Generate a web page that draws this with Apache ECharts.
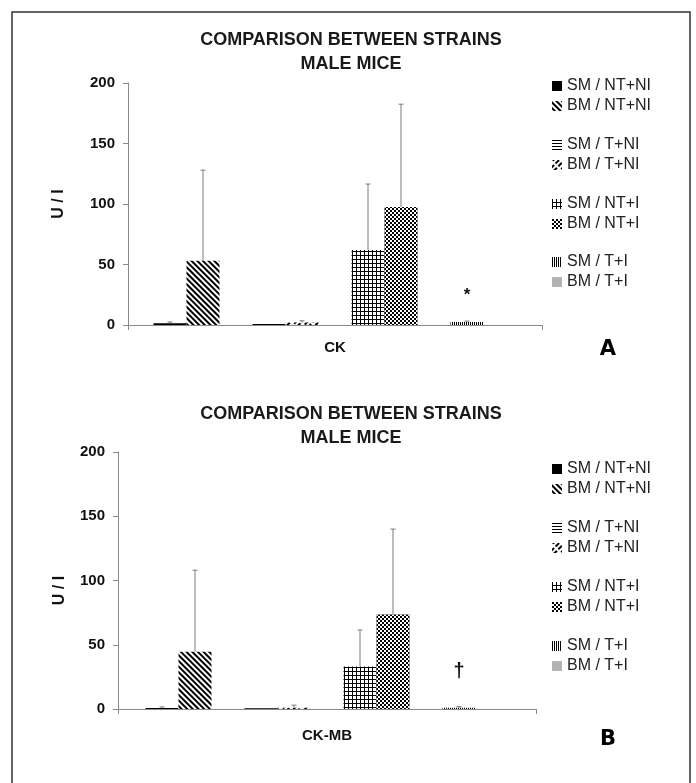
<!DOCTYPE html>
<html>
<head>
<meta charset="utf-8">
<script src="https://cdn.jsdelivr.net/npm/echarts@6.0.0/dist/echarts.min.js"></script>
<style>
  html, body { margin: 0; padding: 0; background: #fff; }
  #chart { width: 696px; height: 783px; }
</style>
</head>
<body>
<div id="chart"></div>
<script>
// groups: strain / treatment
const groups = ['SM / NT+NI', 'BM / NT+NI', 'SM / T+NI', 'BM / T+NI', 'SM / NT+I', 'BM / NT+I', 'SM / T+I', 'BM / T+I'];
const yTicks = [0, 50, 100, 150, 200];

// panel A
const ckCategory = ['CK'];
const ckMean = [1.5, 53, 0.8, 2, 62, 97.5, 2.5, 0];
const ckSd = [1, 75, 0, 1.5, 54.5, 85, 0.7, 0];
const ckMark = ['', '', '', '', '', '', '*', ''];

// panel B
const ckmbCategory = ['CK-MB'];
const ckmbMean = [0.8, 44.5, 0.5, 1, 33, 73.5, 1, 0];
const ckmbSd = [0.8, 63.5, 0, 2, 28.5, 66.5, 0.8, 0];
const ckmbMark = ['', '', '', '', '', '', '†', ''];

const FONT = 'Liberation Sans, Arial, sans-serif';
const BAR_W = 33;
const AXIS_COLOR = '#8a8a8a';

// fill patterns for each group (same order as groups)
const fills = [
    { color: '#000' },
    { color: '#fff', decal: { symbol: 'rect', symbolSize: 1, color: '#000', dashArrayX: [1, 0], dashArrayY: [1.5, 1.5], rotation: Math.PI / 4 } },
    { color: '#fff', decal: { symbol: 'rect', symbolSize: 1, color: '#000', dashArrayX: [1, 0], dashArrayY: [1, 1.5], rotation: 0 } },
    { color: '#fff', decal: { symbol: 'rect', symbolSize: 1, color: '#000', dashArrayX: [5, 1.5], dashArrayY: [1.5, 2], rotation: -Math.PI / 4 } },
    { color: '#fff', decal: { symbol: 'rect', symbolSize: 1, color: '#000', dashArrayX: [[1, 0], [1, 3], [1, 3], [1, 3]], dashArrayY: [1, 0], rotation: 0 } },
    { color: '#000', decal: { symbol: 'rect', symbolSize: 1, color: '#fff', dashArrayX: [[2, 2], [0, 2, 2, 0]], dashArrayY: [2, 0], rotation: 0 } },
    { color: '#fff', decal: { symbol: 'rect', symbolSize: 1, color: '#000', dashArrayX: [1, 1], dashArrayY: [1, 0], rotation: 0 } },
    { color: '#b3b3b3' }
];

// error bar: x of the bar = category centre shifted by its slot (11 slots, 3 blank)
const errorBar = (params, api) => {
    if (api.value(3) <= api.value(2)) return null;
    const top = api.coord([api.value(0), api.value(3)]);
    const base = api.coord([api.value(0), api.value(2)]);
    const x = top[0] + (api.value(1) - 5) * BAR_W;
    const st = { stroke: '#7a7a7a', lineWidth: 1 };
    return {
        type: 'group',
        children: [
            { type: 'line', shape: { x1: x, y1: base[1], x2: x, y2: top[1] }, style: st },
            { type: 'line', shape: { x1: x - 2.5, y1: top[1], x2: x + 2.5, y2: top[1] }, style: st }
        ]
    };
};

const buildSeries = (gi, means, sds, marks, markSize, markDist) => {
    const out = [];
    groups.forEach((name, i) => {
        out.push({
            type: 'bar', name, xAxisIndex: gi, yAxisIndex: gi,
            data: [means[i]], barWidth: BAR_W, barGap: '0%',
            itemStyle: fills[i], silent: true,
            label: {
                show: marks[i] !== '', position: 'top', distance: markDist, formatter: marks[i],
                fontSize: markSize, fontWeight: 'bold', color: '#111', fontFamily: FONT
            }
        });
        // blank slot between pairs
        if (i % 2 === 1 && i < groups.length - 1) {
            out.push({ type: 'bar', name: 'blank', xAxisIndex: gi, yAxisIndex: gi, data: [null], barWidth: BAR_W, barGap: '0%', silent: true });
        }
    });
    out.push({
        type: 'custom', xAxisIndex: gi, yAxisIndex: gi, z: 5, silent: true,
        renderItem: errorBar, encode: { x: 0, y: 3 },
        data: groups.map((_, i) => [0, i + Math.floor(i / 2), means[i], means[i] + sds[i]])
    });
    return out;
};

const yAxis = (gi, gap, shift) => ({
    gridIndex: gi, type: 'value',
    min: yTicks[0], max: yTicks[yTicks.length - 1], interval: yTicks[1] - yTicks[0],
    name: 'U / I', nameLocation: 'middle', nameGap: gap, nameRotate: 90,
    nameTextStyle: { fontSize: 16, fontWeight: 'bold', color: '#111', fontFamily: FONT, padding: [0, shift, 0, 0] },
    axisLine: { show: true, lineStyle: { color: AXIS_COLOR } },
    axisTick: { show: true, length: 5, lineStyle: { color: AXIS_COLOR } },
    axisLabel: { margin: 13, fontSize: 15, fontWeight: 'bold', color: '#111', fontFamily: FONT },
    splitLine: { show: false }
});

const xAxis = (gi, cats, margin) => ({
    gridIndex: gi, type: 'category', data: cats,
    axisLine: { show: true, lineStyle: { color: AXIS_COLOR } },
    axisTick: { show: true, length: 5, lineStyle: { color: AXIS_COLOR } },
    axisLabel: { margin, fontSize: 15, fontWeight: 'bold', color: '#111', fontFamily: FONT }
});

const legendTops = [[78, 137, 196, 254], [461, 520, 579, 638]];
const legends = [];
legendTops.forEach(tops => tops.forEach((top, k) => {
    legends.push({
        data: groups.slice(k * 2, k * 2 + 2), orient: 'vertical', left: 552, top,
        itemWidth: 10, itemHeight: 10, itemGap: 4, padding: 0, selectedMode: false, icon: 'rect',
        textStyle: { fontSize: 16, lineHeight: 16, color: '#222', fontFamily: FONT }
    });
}));

const titleStyle = { fontSize: 18, fontWeight: 'bold', lineHeight: 24, color: '#1a1a1a', fontFamily: FONT };
const panelStyle = { fontSize: 21, fontWeight: 'bold', color: '#000', fontFamily: 'DejaVu Sans' };

const chart = echarts.init(document.getElementById('chart'));
chart.setOption({
    animation: false,
    backgroundColor: '#fff',
    title: [
        { text: 'COMPARISON BETWEEN STRAINS\nMALE MICE', left: 351, top: 28, textAlign: 'center', padding: 0, textStyle: titleStyle },
        { text: 'COMPARISON BETWEEN STRAINS\nMALE MICE', left: 351, top: 402, textAlign: 'center', padding: 0, textStyle: titleStyle },
        { text: 'A', left: 608, top: 339, textAlign: 'center', padding: 0, textStyle: panelStyle },
        { text: 'B', left: 608, top: 729, textAlign: 'center', padding: 0, textStyle: panelStyle }
    ],
    legend: legends,
    grid: [
        { left: 128, top: 83, width: 414, height: 242 },
        { left: 118, top: 452, width: 418, height: 257 }
    ],
    xAxis: [xAxis(0, ckCategory, 15), xAxis(1, ckmbCategory, 19)],
    yAxis: [yAxis(0, 61, 0), yAxis(1, 50, 20)],
    series: [
        ...buildSeries(0, ckMean, ckSd, ckMark, 17, 18),
        ...buildSeries(1, ckmbMean, ckmbSd, ckmbMark, 20, 26)
    ],
    graphic: [
        { type: 'rect', silent: true, shape: { x: 12, y: 12, width: 678, height: 800 }, style: { fill: 'none', stroke: '#333', lineWidth: 1.5 } }
    ]
});
</script>
</body>
</html>
